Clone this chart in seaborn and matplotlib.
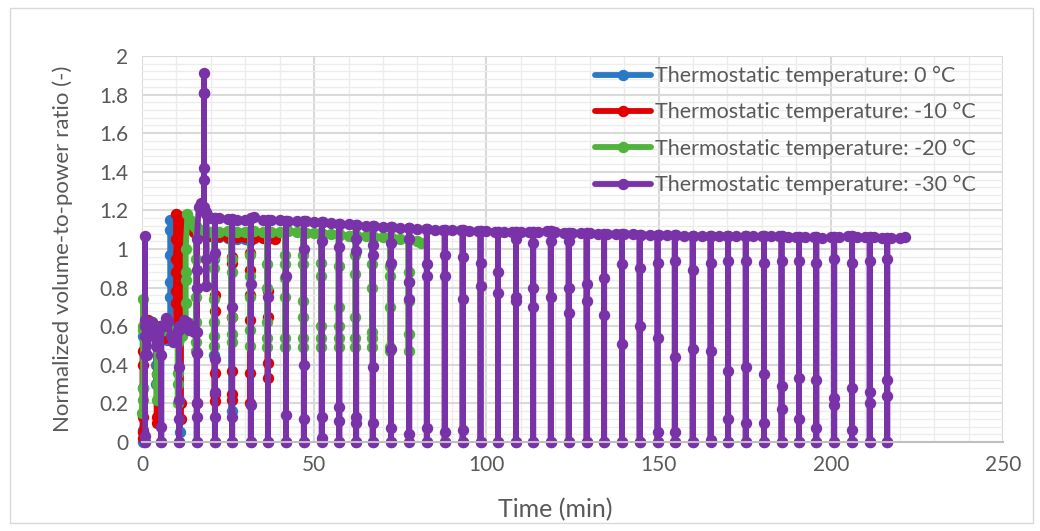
import numpy as np
import pandas as pd
import matplotlib
matplotlib.use("Agg")
import matplotlib.pyplot as plt
import seaborn as sns
from matplotlib.ticker import MultipleLocator, FuncFormatter
from matplotlib.patches import Rectangle

series_names = [
    "Thermostatic temperature: 0 °C",
    "Thermostatic temperature: -10 °C",
    "Thermostatic temperature: -20 °C",
    "Thermostatic temperature: -30 °C",
]
series_colors = ["#2a78c6", "#e00000", "#4fb33c", "#7a32a8"]

# ---------------- 0 °C ----------------
blue_early_t = [0.8, 1.5, 2.5, 3.5, 5.5, 6.5, 7.3, 9.0, 10.0, 10.6]
blue_early_v = [0.60, 0.62, 0.60, 0.57, 0.56, 0.55, 0.53, 1.14, 1.12, 1.10]
blue_band_t = np.arange(12.5, 30.1, 2.5)
blue_band_v = [1.10, 1.09, 1.08, 1.07, 1.06, 1.055, 1.05, 1.05]
blue_end = (31.5, 1.04)
blue_dip_t = [0.2, 4.2, 8.2, 11.0, 16.0, 21.0, 26.0]
blue_dip_v = [
    [0.0, 0.06, 0.28, 0.55],
    [0.55, 0.40, 0.30, 0.55],
    [0.55, 0.75, 0.83, 0.97, 1.10, 1.15],
    [1.10, 0.05, 1.10],
    [1.09, 0.80, 1.09],
    [1.07, 0.95, 0.45, 1.07],
    [1.06, 0.16, 1.06],
]

# ---------------- -10 °C ----------------
red_early_t = [0.5, 1.0, 1.8, 2.6, 3.4, 4.0, 5.6, 6.4, 7.2, 8.0, 8.6, 10.8]
red_early_v = [0.58, 0.62, 0.63, 0.62, 0.60, 0.55, 0.56, 0.54, 0.55, 0.56, 0.56, 1.17]
red_band_t = np.arange(12.5, 37.6, 2.5)
red_band_v = [1.10, 1.09, 1.08, 1.07, 1.065, 1.06, 1.06, 1.06, 1.055, 1.055, 1.055]
red_end = (38.5, 1.05)
red_dip_t = [0.2, 4.3, 9.9, 11.2, 16.0, 21.1, 26.1, 31.5, 36.5]
red_dip_v = [
    [0.02, 0.05, 0.13, 0.40, 0.47],
    [0.55, 0.13, 0.10, 0.35, 0.55],
    [0.60, 0.72, 0.78, 0.88, 0.95, 1.05, 1.18],
    [1.15, 0.20, 0.12, 1.12],
    [1.09, 0.46, 0.20, 1.09],
    [1.07, 0.76, 0.68, 0.36, 0.25, 0.21, 1.07],
    [1.06, 0.96, 0.93, 0.65, 0.37, 0.25, 0.22, 1.06],
    [1.06, 0.98, 0.89, 0.76, 0.63, 0.36, 0.20, 1.06],
    [1.055, 0.78, 0.65, 0.41, 0.33, 1.055],
]

# ---------------- -20 °C ----------------
green_early_t = [0.0, 0.2, 1.3, 2.0, 2.8, 3.5, 5.5, 6.5, 7.3, 8.0, 8.8, 9.8,
                 11.5, 12.2, 13.2, 14.0]
green_early_v = [0.15, 0.22, 0.57, 0.60, 0.62, 0.58, 0.60, 0.58, 0.60, 0.57, 0.58, 0.55,
                 0.55, 0.58, 1.18, 1.15]
green_band_t = np.arange(15.0, 80.1, 2.5)
green_band_v = [1.12, 1.10, 1.09, 1.09, 1.095, 1.09, 1.09, 1.095, 1.09, 1.09,
                1.09, 1.095, 1.09, 1.085, 1.085, 1.08, 1.08, 1.075, 1.07, 1.07,
                1.065, 1.06, 1.06, 1.055, 1.05, 1.045, 1.04]
green_end = (81.0, 1.03)
green_dip_t = [0.35, 4.3, 10.4, 12.7, 15.7, 21.0, 26.0, 31.4, 36.4, 41.6, 46.8,
               52.0, 57.1, 62.0, 66.8, 72.1, 77.4]
green_dip_v = [
    [0.28, 0.58, 0.74, 0.60],
    [0.55, 0.30, 0.22, 0.35, 0.55],
    [0.52, 0.36, 0.20, 0.30, 0.52],
    [0.60, 0.72, 0.84, 0.88, 1.00],
    [1.12, 0.95, 0.75, 0.52, 0.47, 0.62, 1.11],
    [1.09, 0.96, 0.90, 0.74, 0.62, 0.55, 0.50, 1.09],
    [1.09, 0.95, 0.88, 0.65, 0.56, 0.52, 1.09],
    [1.09, 0.97, 0.86, 0.75, 0.58, 0.50, 1.09],
    [1.09, 0.92, 0.80, 0.62, 0.54, 0.49, 1.09],
    [1.09, 0.97, 0.92, 0.85, 0.75, 0.54, 0.49, 1.09],
    [1.09, 0.97, 0.92, 0.73, 0.65, 0.54, 0.49, 1.09],
    [1.085, 0.93, 0.86, 0.60, 0.54, 0.49, 1.085],
    [1.08, 0.91, 0.70, 0.60, 0.54, 0.49, 1.08],
    [1.075, 0.97, 0.87, 0.65, 0.54, 0.49, 1.075],
    [1.07, 0.92, 0.80, 0.57, 0.54, 0.49, 1.07],
    [1.06, 0.91, 0.86, 0.70, 0.49, 0.47, 1.06],
    [1.05, 0.88, 0.83, 0.73, 0.56, 0.47, 1.05],
]

# ---------------- -30 °C ----------------
purple_early_t = [1.6, 2.2, 2.8, 3.4, 4.0, 4.6, 5.2, 6.3, 7.0, 7.6, 8.3, 9.0,
                  9.8, 10.4, 11.5, 12.2, 13.0, 13.8, 14.5, 15.2, 16.5, 17.0, 17.5, 19.3]
purple_early_v = [0.45, 0.58, 0.62, 0.55, 0.50, 0.57, 0.60, 0.60, 0.64, 0.62, 0.55, 0.52,
                  0.55, 0.58, 0.60, 0.63, 0.62, 0.58, 0.60, 0.57, 1.22, 1.24, 1.22, 1.17]
purple_band_t = np.arange(20.0, 220.1, 2.5)
purple_band_v = [
    1.16, 1.16, 1.155, 1.15, 1.15, 1.165, 1.15, 1.15, 1.15, 1.145,
    1.145, 1.145, 1.14, 1.14, 1.135, 1.13, 1.13, 1.125, 1.12, 1.12,
    1.115, 1.115, 1.11, 1.11, 1.105, 1.105, 1.10, 1.10, 1.10, 1.10,
    1.095, 1.095, 1.095, 1.09, 1.09, 1.09, 1.09, 1.09, 1.09, 1.095,
    1.09, 1.085, 1.085, 1.085, 1.085, 1.08, 1.08, 1.08, 1.08, 1.08,
    1.075, 1.075, 1.075, 1.075, 1.075, 1.07, 1.07, 1.07, 1.07, 1.07,
    1.07, 1.065, 1.065, 1.065, 1.065, 1.065, 1.065, 1.06, 1.06, 1.06,
    1.06, 1.055, 1.06, 1.06, 1.065, 1.06, 1.06, 1.06, 1.055, 1.055,
    1.055,
]
purple_end = (221.5, 1.06)
purple_dip_t = [0.9, 5.6, 10.8, 15.9, 18.0, 18.7, 21.2, 26.2, 31.6, 36.6, 41.8,
                47.0, 52.2, 57.3, 62.2, 67.0, 72.3, 77.6, 82.7, 87.9, 93.1, 98.3,
                103.4, 108.6, 113.6, 118.7, 123.9, 129.1, 134.2, 139.4, 144.5,
                149.7, 154.7, 159.9, 165.1, 170.2, 175.3, 180.6, 185.7, 190.8,
                195.8, 201.0, 206.2, 211.3, 216.4]
purple_dip_v = [
    [0.0, 0.0, 0.03, 0.45, 0.60, 1.07, 0.63, 0.55],
    [0.60, 0.08, 0.0, 0.0, 0.45, 0.60],
    [0.58, 0.39, 0.22, 0.12, 0.0, 0.0, 0.60],
    [0.57, 0.46, 0.20, 0.13, 0.0, 0.0, 0.80, 0.89, 1.05],
    [1.22, 1.36, 1.42, 1.81, 1.91, 1.81, 1.20],
    [1.19, 0.95, 0.81, 1.18],
    [1.16, 0.98, 0.43, 0.26, 0.13, 0.0, 0.0, 1.16],
    [1.155, 0.70, 0.13, 0.0, 0.0, 1.155],
    [1.16, 0.82, 0.19, 0.0, 0.0, 1.16],
    [1.15, 0.75, 0.0, 0.0, 1.15],
    [1.145, 0.86, 0.14, 0.0, 0.0, 1.145],
    [1.145, 1.00, 0.40, 0.12, 0.0, 0.0, 1.145],
    [1.14, 1.04, 0.13, 0.02, 0.0, 1.14],
    [1.13, 1.01, 0.18, 0.11, 0.0, 0.0, 1.13],
    [1.125, 1.05, 0.99, 0.13, 0.10, 0.0, 0.0, 1.125],
    [1.12, 1.02, 0.97, 0.39, 0.10, 0.0, 0.0, 1.12],
    [1.115, 1.03, 0.93, 0.48, 0.07, 0.0, 0.0, 1.115],
    [1.11, 1.05, 0.83, 0.74, 0.04, 0.0, 1.11],
    [1.105, 0.92, 0.86, 0.07, 0.0, 0.0, 1.105],
    [1.10, 0.97, 0.86, 0.05, 0.0, 0.0, 1.10],
    [1.10, 0.96, 0.74, 0.06, 0.0, 0.0, 1.10],
    [1.095, 0.93, 0.81, 0.0, 0.0, 1.095],
    [1.09, 0.88, 0.77, 0.0, 0.0, 1.09],
    [1.09, 1.05, 0.75, 0.73, 0.0, 0.0, 1.09],
    [1.09, 1.03, 0.80, 0.70, 0.0, 0.0, 1.09],
    [1.095, 1.04, 0.75, 0.0, 0.0, 1.095],
    [1.085, 1.04, 0.80, 0.67, 0.0, 0.0, 1.085],
    [1.085, 0.82, 0.73, 0.0, 0.0, 1.085],
    [1.08, 0.85, 0.66, 0.0, 0.0, 1.08],
    [1.08, 0.92, 0.51, 0.0, 0.0, 1.08],
    [1.075, 0.90, 0.60, 0.0, 0.0, 1.075],
    [1.075, 0.93, 0.54, 0.05, 0.0, 0.0, 1.075],
    [1.075, 0.94, 0.44, 0.05, 0.0, 0.0, 1.075],
    [1.07, 0.89, 0.48, 0.0, 0.0, 1.07],
    [1.07, 0.93, 0.47, 0.01, 0.0, 1.07],
    [1.07, 0.94, 0.37, 0.12, 0.0, 0.0, 1.07],
    [1.065, 0.94, 0.39, 0.10, 0.0, 0.0, 1.065],
    [1.065, 0.93, 0.35, 0.10, 0.0, 0.0, 1.065],
    [1.065, 0.94, 0.29, 0.17, 0.0, 0.0, 1.065],
    [1.06, 0.94, 0.33, 0.12, 0.0, 0.0, 1.06],
    [1.06, 0.93, 0.32, 0.07, 0.0, 0.0, 1.06],
    [1.06, 0.95, 0.23, 0.19, 0.0, 0.0, 1.06],
    [1.065, 0.93, 0.28, 0.06, 0.0, 0.0, 1.065],
    [1.06, 0.94, 0.26, 0.20, 0.0, 0.0, 1.06],
    [1.055, 0.95, 0.32, 0.24, 0.0, 0.0, 1.055],
]


def assemble(early_t, early_v, band_t, band_v, end, dip_t, dip_v):
    """Merge steady samples and the vertical dip events into one time-ordered trace."""
    events = [(t, [v]) for t, v in zip(early_t, early_v)]
    events += [(float(t), [v]) for t, v in zip(band_t, band_v)]
    events += [(end[0], [end[1]])]
    events += [(t, list(vals)) for t, vals in zip(dip_t, dip_v)]
    events.sort(key=lambda e: e[0])
    ts, vs = [], []
    for t, vals in events:
        ts += [t] * len(vals)
        vs += vals
    return ts, vs


traces = [
    assemble(blue_early_t, blue_early_v, blue_band_t, blue_band_v, blue_end, blue_dip_t, blue_dip_v),
    assemble(red_early_t, red_early_v, red_band_t, red_band_v, red_end, red_dip_t, red_dip_v),
    assemble(green_early_t, green_early_v, green_band_t, green_band_v, green_end, green_dip_t, green_dip_v),
    assemble(purple_early_t, purple_early_v, purple_band_t, purple_band_v, purple_end, purple_dip_t, purple_dip_v),
]

frames = []
for name, (ts, vs) in zip(series_names, traces):
    frames.append(pd.DataFrame({"time": ts, "ratio": vs, "series": name}))
df = pd.concat(frames, ignore_index=True)

sns.set_style("white")
plt.rcParams["font.family"] = ["Lato", "DejaVu Sans"]
text_color = "#595959"

fig = plt.figure(figsize=(10.4, 5.31), dpi=100)
ax = fig.add_axes([0.1365, 0.1676, 0.8279, 0.7269])

sns.lineplot(
    data=df, x="time", y="ratio", hue="series", hue_order=series_names,
    palette=series_colors, sort=False, estimator=None, marker="o",
    markersize=8.2, linewidth=4.2, markeredgewidth=0, clip_on=False,
    legend=False, ax=ax,
)

ax.set_xlim(0, 250)
ax.set_ylim(0, 2)
ax.xaxis.set_major_locator(MultipleLocator(50))
ax.xaxis.set_minor_locator(MultipleLocator(10))
ax.yaxis.set_major_locator(MultipleLocator(0.2))
ax.yaxis.set_minor_locator(MultipleLocator(0.04))
ax.yaxis.set_major_formatter(FuncFormatter(lambda v, _: f"{v:g}"))
ax.grid(which="major", color="#d9d9d9", linewidth=1.5)
ax.grid(which="minor", color="#ececec", linewidth=1.0)
ax.set_axisbelow(True)
ax.tick_params(which="both", length=0, labelsize=15, colors=text_color)
ax.tick_params(axis="x", pad=9)
ax.tick_params(axis="y", pad=10)
for side in ["left", "top", "right"]:
    ax.spines[side].set_visible(False)
ax.spines["bottom"].set_color("#bfbfbf")
ax.spines["bottom"].set_linewidth(1.5)

ax.set_xlabel("Time (min)", fontsize=18, color=text_color)
ax.set_ylabel("Normalized volume-to-power ratio (-)", fontsize=16, color=text_color)
ax.xaxis.set_label_coords(0.48, -0.145)
ax.yaxis.set_label_coords(-0.08, 0.5)

# legend uses the plotted traces themselves as handles
handles = []
for col in series_colors:
    for ln in ax.lines:
        if matplotlib.colors.to_hex(ln.get_color()) == matplotlib.colors.to_hex(col):
            handles.append(ln)
            break
leg = ax.legend(handles, series_names, loc="upper left", bbox_to_anchor=(0.526, 0.974),
                frameon=False, fontsize=15.5, handlelength=2.6, handletextpad=0.2,
                labelspacing=0.75, borderaxespad=0, borderpad=0)
for t in leg.get_texts():
    t.set_color(text_color)

fig.patches.append(Rectangle((10 / 1040, 8 / 531), 1023 / 1040, 515 / 531,
                             transform=fig.transFigure, fill=False,
                             edgecolor="#d9d9d9", linewidth=1.0))

fig.savefig("out.png", dpi=100)
